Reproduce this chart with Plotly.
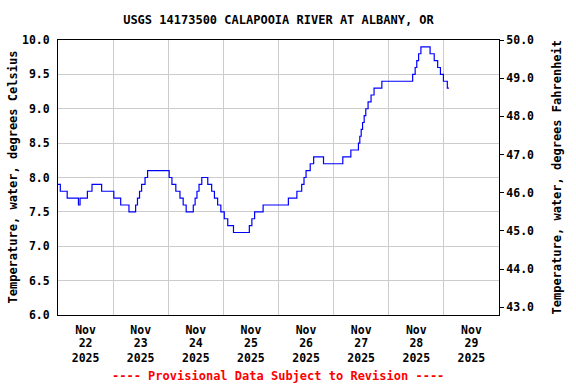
import datetime as dt
import plotly.graph_objects as go

# --- data (hours since 2025-11-22 00:00, water temperature in deg C) ---
start = dt.datetime(2025, 11, 22)
hours = [0, 1.0, 4.0, 8.9, 9.6, 12.8, 14.8, 19.0, 24.3, 27.3,
         30.9, 33.8, 34.6, 35.5, 36.4, 37.9, 39.0, 48.4, 49.6, 51.3,
         53.1, 54.5, 55.8, 58.9, 59.7, 60.5, 61.4, 62.6, 65.2, 66.9,
         68.1, 69.5, 70.9, 72.4, 73.9, 76.4, 83.3, 84.4, 85.6, 89.3,
         100.3, 104.0, 106.1, 107.1, 108.0, 109.8, 111.3, 115.6, 124.0, 127.5,
         130.8, 131.4, 132.0, 132.6, 133.3, 134.0, 135.0, 136.3, 137.6, 141.0,
         154.4, 155.5, 156.2, 157.0, 158.0, 162.0, 163.8, 165.3, 166.5, 167.8,
         169.5, 170.2]
temp_c = [7.9, 7.8, 7.7, 7.6, 7.7, 7.8, 7.9, 7.8, 7.7, 7.6,
          7.5, 7.6, 7.7, 7.8, 7.9, 8.0, 8.1, 8.0, 7.9, 7.8,
          7.7, 7.6, 7.5, 7.6, 7.7, 7.8, 7.9, 8.0, 7.9, 7.8,
          7.7, 7.6, 7.5, 7.4, 7.3, 7.2, 7.3, 7.4, 7.5, 7.6,
          7.7, 7.8, 7.9, 8.0, 8.1, 8.2, 8.3, 8.2, 8.3, 8.4,
          8.5, 8.6, 8.7, 8.8, 8.9, 9.0, 9.1, 9.2, 9.3, 9.4,
          9.5, 9.6, 9.7, 9.8, 9.9, 9.8, 9.7, 9.6, 9.5, 9.4,
          9.3, 9.3]
tick_months = ["Nov"] * 8
tick_days = ["22", "23", "24", "25", "26", "27", "28", "29"]
tick_years = ["2025"] * 8

times = [start + dt.timedelta(hours=h) for h in hours]
temp_f = [c * 1.8 + 32 for c in temp_c]
label_pos = [start + dt.timedelta(days=i, hours=12) for i in range(len(tick_days))]
x_range = [start, start + dt.timedelta(days=8)]

FONT = "DejaVu Sans Mono"
fnt = dict(family=FONT, size=11.5, color="black", weight="bold")

fig = go.Figure()
fig.add_trace(go.Scatter(x=times, y=temp_c, mode="lines", line_shape="hv",
                         line=dict(color="#0000FF", width=1.2), hoverinfo="skip",
                         showlegend=False))
# invisible companions so the Fahrenheit axis and the extra label rows are drawn
for xa, ya, yv in (("x", "y2", temp_f), ("x2", "y", temp_c), ("x3", "y", temp_c)):
    fig.add_trace(go.Scatter(x=times, y=yv, mode="lines", xaxis=xa, yaxis=ya,
                             line=dict(color="rgba(0,0,0,0)", width=0),
                             hoverinfo="skip", showlegend=False))


def label_axis(texts, standoff, **extra):
    d = dict(range=x_range, type="date", tickmode="array", tickvals=label_pos,
             ticktext=texts, ticks="", showgrid=False, zeroline=False,
             tickfont=fnt, automargin=False, ticklabelstandoff=standoff)
    d.update(extra)
    return d


fig.update_layout(
    width=576, height=384,
    margin=dict(l=58, r=77, t=40, b=69),
    paper_bgcolor="white", plot_bgcolor="white",
    font=fnt,
    hovermode=False,
    title=dict(text="USGS 14173500 CALAPOOIA RIVER AT ALBANY, OR",
               x=0.5, xref="paper", xanchor="center",
               y=1 - 19.5 / 384, yref="container", yanchor="middle",
               font=dict(family=FONT, size=12, color="black", weight="bold")),
    xaxis=label_axis(tick_months, 4,
                     showline=True, linecolor="black", linewidth=1, mirror=True,
                     minor=dict(tickmode="linear", tick0=start, dtick=86400000,
                                showgrid=True, gridcolor="#CCCCCC", gridwidth=1, ticks="")),
    xaxis2=label_axis(tick_days, 19, overlaying="x", anchor="y", side="bottom"),
    xaxis3=label_axis(tick_years, 34, overlaying="x", anchor="y", side="bottom"),
    yaxis=dict(range=[6, 10], tick0=6, dtick=0.5, tickformat=".1f",
               showgrid=True, gridcolor="#CCCCCC", gridwidth=1, zeroline=False,
               showline=True, linecolor="black", linewidth=1, mirror=True,
               ticks="outside", ticklen=5, tickcolor="rgba(0,0,0,0)",
               tickfont=fnt, automargin=False),
    yaxis2=dict(range=[42.8, 50], tick0=43, dtick=1, tickformat=".1f",
                overlaying="y", side="right", showgrid=False, zeroline=False,
                ticks="outside", ticklen=4, tickcolor="black",
                showline=True, linecolor="black", linewidth=1,
                tickfont=fnt, automargin=False),
)

fig.add_annotation(text="Temperature, water, degrees Celsius", textangle=-90,
                   xref="paper", yref="paper", x=(12 - 58) / 441, y=0.5,
                   xanchor="center", yanchor="middle", showarrow=False,
                   font=dict(family=FONT, size=12, color="black", weight="bold"))
fig.add_annotation(text="Temperature, water, degrees Fahrenheit", textangle=-90,
                   xref="paper", yref="paper", x=(556 - 58) / 441, y=0.5,
                   xanchor="center", yanchor="middle", showarrow=False,
                   font=dict(family=FONT, size=12, color="black", weight="bold"))
fig.add_annotation(text="---- Provisional Data Subject to Revision ----",
                   xref="paper", yref="paper", x=(277.5 - 58) / 441, y=(315 - 376) / 275,
                   xanchor="center", yanchor="middle", showarrow=False,
                   font=dict(family=FONT, size=12, color="#FF0000", weight="bold"))

fig.write_html("out.html", config={"displayModeBar": False},
               post_script="document.body.style.margin='0';"
               "document.body.style.overflow='hidden';")
